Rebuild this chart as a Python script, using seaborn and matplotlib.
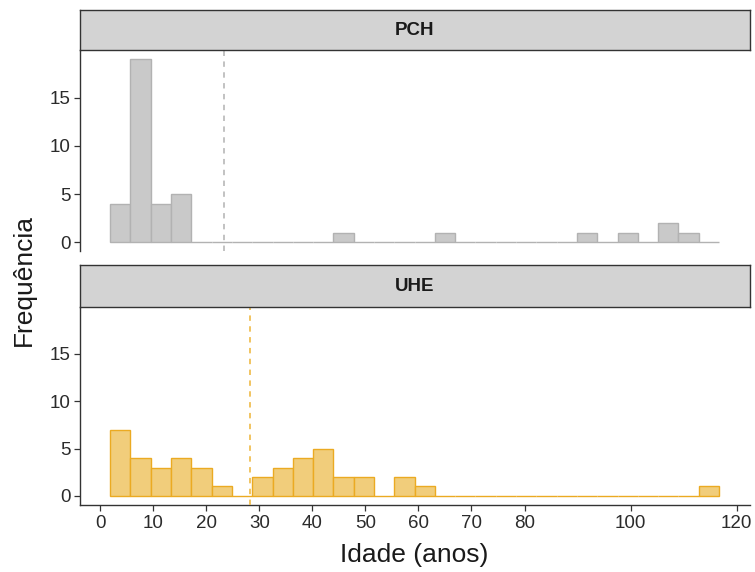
import numpy as np
import pandas as pd
import matplotlib
matplotlib.use("Agg")
import matplotlib.pyplot as plt
import seaborn as sns

sns.set_theme(style="white")
plt.rcParams["font.family"] = ["Liberation Sans", "DejaVu Sans"]

# Age classes (30 bins of equal width) and the number of plants per class
bin_start = 1.88
bin_width = 3.826
n_bins = 30
pch_counts = [4, 19, 4, 5, 0, 0, 0, 0, 0, 0, 0, 1, 0, 0, 0, 0, 1, 0, 0, 0,
              0, 0, 0, 1, 0, 1, 0, 2, 1, 0]
uhe_counts = [7, 4, 3, 4, 3, 1, 0, 2, 3, 4, 5, 2, 2, 0, 2, 1, 0, 0, 0, 0,
              0, 0, 0, 0, 0, 0, 0, 0, 0, 1]
mean_age = {"PCH": 23.4, "UHE": 28.2}
panels = ["PCH", "UHE"]
x_ticks = [0, 10, 20, 30, 40, 50, 60, 70, 80, 100, 120]
y_ticks = [0, 5, 10, 15]

edges = bin_start + bin_width * np.arange(n_bins + 1)
centers = (edges[:-1] + edges[1:]) / 2
df = pd.DataFrame({
    "tipo": np.repeat(panels, n_bins),
    "idade": np.tile(centers, 2),
    "n": pch_counts + uhe_counts,
})

style = {
    "PCH": dict(face="#C9C9C9", edge="#B2B2B2", line="#BDBDBD"),
    "UHE": dict(face="#F1CD7B", edge="#EBAA22", line="#F0BF55"),
}

W, H = 755, 572
fig = plt.figure(figsize=(W / 100, H / 100), dpi=100)


def rect(x0, y0, x1, y1):
    return [x0 / W, 1 - y1 / H, (x1 - x0) / W, (y1 - y0) / H]


layout = {
    "PCH": dict(strip=(80, 10, 750, 50), panel=(80, 50, 750, 251.4)),
    "UHE": dict(strip=(80, 265, 750, 306.7), panel=(80, 306.7, 750, 505)),
}

text_col = "#2B2B2B"
for i, name in enumerate(panels):
    ax = fig.add_axes(rect(*layout[name]["panel"]))
    sub = df[df["tipo"] == name]
    sns.histplot(data=sub, x="idade", weights="n", bins=list(edges), ax=ax,
                 facecolor=style[name]["face"], edgecolor=style[name]["edge"],
                 linewidth=1.0, alpha=1)
    ax.axvline(mean_age[name], color=style[name]["line"], lw=1.3,
               ls=(0, (3, 3)), zorder=3)
    ax.set_xlim(-3.8, 122.5)
    ax.set_ylim(-0.95, 19.95)
    ax.set_yticks(y_ticks)
    ax.set_xlabel("")
    ax.set_ylabel("")
    for s in ["top", "right"]:
        ax.spines[s].set_visible(False)
    ax.spines["left"].set_color("#333333")
    ax.spines["left"].set_linewidth(1.0)
    ax.tick_params(axis="y", length=4.5, width=0.9, color="#333333",
                   labelsize=13.5, labelcolor=text_col, pad=2.5, left=True)
    if i == len(panels) - 1:
        ax.set_xticks(x_ticks)
        ax.spines["bottom"].set_color("#333333")
        ax.spines["bottom"].set_linewidth(1.0)
        ax.tick_params(axis="x", length=4, width=0.9, color="#333333",
                       labelsize=13.5, labelcolor=text_col, pad=3, bottom=True)
    else:
        ax.spines["bottom"].set_visible(False)
        ax.set_xticks([])
    ax.patch.set_alpha(0)

    sax = fig.add_axes(rect(*layout[name]["strip"]))
    sax.set_facecolor("#D3D3D3")
    sax.set_xticks([])
    sax.set_yticks([])
    for s in sax.spines.values():
        s.set_visible(True)
        s.set_color("#333333")
        s.set_linewidth(1.0)
    sax.text(0.5, 0.48, name, ha="center", va="center", fontsize=13.5,
             fontweight="bold", color="#1A1A1A", transform=sax.transAxes)

fig.text(24 / W, 1 - 280 / H, "Frequência", rotation=90, ha="center",
         va="center", fontsize=19, color="#1A1A1A")
fig.text(414 / W, 1 - 555 / H, "Idade (anos)", ha="center", va="center",
         fontsize=19, color="#1A1A1A")

fig.savefig("out.png", dpi=100)
